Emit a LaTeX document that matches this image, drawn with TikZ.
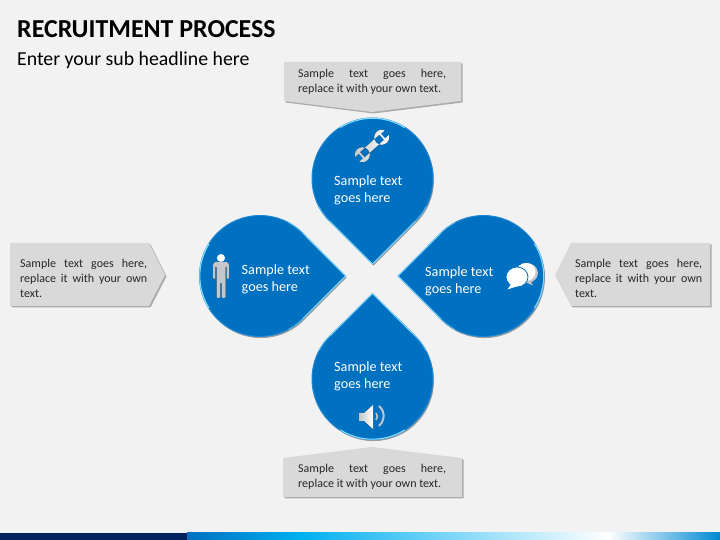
\documentclass[tikz,border=0pt]{standalone}
\usepackage{fontspec}
\setmainfont{Carlito}
\definecolor{pagebg}{HTML}{F2F2F2}
\definecolor{dropblue}{HTML}{0070C0}
\definecolor{rimblue}{HTML}{1F88D4}
\definecolor{glow}{HTML}{7FDBFF}
\definecolor{calloutgray}{HTML}{D9D9D9}
\definecolor{navybar}{HTML}{002060}
\definecolor{skybar}{HTML}{00B0F0}
\definecolor{icongray}{HTML}{C4C8CC}
\tikzset{
  calloutbox/.style={fill=calloutgray},
  calloutshade/.style={fill=black!60,opacity=.5},
  callouttext/.style={inner sep=0pt,anchor=north west,align=left,font=\fontsize{12}{14.6}\selectfont,text=black!85},
  droplabel/.style={inner sep=0pt,anchor=west,align=left,text=white,font=\fontsize{14.2}{17}\selectfont},
  iconfill/.style={left color=icongray,right color=white},
  iconmid/.style={left color=icongray,middle color=white,right color=icongray},
}
\newcommand\dropoutline{(0,-85.5) -- (-45:60.5) arc[start angle=-45,end angle=225,radius=60.5] -- cycle}
\newcommand\teardrop[3]{%
  \begin{scope}[shift={(#1+1,#2-1.6)},rotate=#3]
    \fill[black,opacity=.35] \dropoutline;
  \end{scope}
  \begin{scope}[shift={(#1,#2)},rotate=#3]
    \fill[dropblue] \dropoutline;
    \draw[rimblue,line width=1pt,line join=miter] \dropoutline;
    \draw[glow!55!rimblue,line width=.8pt] (-45:60.5) arc[start angle=-45,end angle=-28,radius=60.5];
    \draw[glow!55!rimblue,line width=.8pt] (225:60.5) arc[start angle=225,end angle=208,radius=60.5];
    \draw[glow,line width=.8pt,line join=miter] (225:60.5) -- (0,-85.5) -- (-45:60.5);
    \draw[glow,line width=1.1pt,line cap=round] (58:60.2) arc[start angle=58,end angle=122,radius=60.2];
  \end{scope}}
\begin{document}
\begin{tikzpicture}[x=1pt,y=1pt]
\useasboundingbox (0,0) rectangle (720,540);
\fill[pagebg] (0,0) rectangle (720,540);
% bottom bar
\fill[navybar] (0,0) rectangle (187,7);
\shade[left color=dropblue,right color=skybar] (187,0) rectangle (300,7);
\shade[left color=skybar,right color=white] (300,0) rectangle (608,7);
\shade[left color=white,right color=dropblue!60!skybar] (608,0) rectangle (720,7);
% titles
\node[inner sep=0pt,anchor=west,font=\fontsize{25.9}{30}\selectfont\bfseries] (title) at (17,511) {RECRUITMENT PROCESS};
\node[inner sep=0pt,anchor=west,font=\fontsize{19.8}{24}\selectfont] (subtitle) at (17,480) {Enter your sub headline here};
% callout shadows
\fill[calloutshade] (285.5,476.5) -- (462.5,476.5) -- (462.5,437.5) -- (373.5,426.5) -- (285.5,437.5) -- cycle;
\fill[calloutshade] (284.5,80.5) -- (373.5,91.5) -- (463.5,80.5) -- (463.5,41.5) -- (284.5,41.5) -- cycle;
\fill[calloutshade] (11.5,295.5) -- (150.5,295.5) -- (166.5,263.5) -- (150.5,232.5) -- (11.5,232.5) -- cycle;
\fill[calloutshade] (572.5,295.5) -- (711.5,295.5) -- (711.5,232.5) -- (572.5,232.5) -- (556.5,263.5) -- cycle;
% callouts
\fill[calloutbox] (284,478) -- (461,478) -- (461,439) -- (372,428) -- (284,439) -- cycle;
\fill[calloutbox] (283,82) -- (372,93) -- (462,82) -- (462,43) -- (283,43) -- cycle;
\fill[calloutbox] (10,297) -- (149,297) -- (165,265) -- (149,234) -- (10,234) -- cycle;
\fill[calloutbox] (571,297) -- (710,297) -- (710,234) -- (571,234) -- (555,265) -- cycle;
\node[callouttext] (ctop) at (298,470.7) {\makebox[148pt][s]{Sample text goes here,}\\replace it with your own text.};
\node[callouttext] (cbottom) at (298,75.7) {\makebox[148pt][s]{Sample text goes here,}\\replace it with your own text.};
\node[callouttext] (cleft) at (20,280.7) {\makebox[127pt][s]{Sample text goes here,}\\\makebox[127pt][s]{replace it with your own}\\text.};
\node[callouttext] (cright) at (575,280.7) {\makebox[127pt][s]{Sample text goes here,}\\\makebox[127pt][s]{replace it with your own}\\text.};
% drops
\teardrop{372.5}{361.5}{0}
\teardrop{260}{264}{90}
\teardrop{483.5}{264}{-90}
\teardrop{372.5}{161}{180}
% labels
\node[droplabel] (ltop) at (334,349.3) {Sample text\\goes here};
\node[droplabel] (lleft) at (241.5,261) {Sample text\\goes here};
\node[droplabel] (lright) at (425,259) {Sample text\\goes here};
\node[droplabel] (lbottom) at (334,163.5) {Sample text\\goes here};
% wrench
\begin{scope}[shift={(372,394)},rotate=42]
  \fill[iconfill] (-13,0) circle[radius=7.5] (13,0) circle[radius=7.5] (-13,-3.5) rectangle (13,3.5);
  \fill[dropblue] (-21,-3) rectangle (-15,3) (15,-3) rectangle (21,3);
\end{scope}
% person
\fill[white] (221,282) circle[radius=4];
\fill[iconmid,rounded corners=1.2pt] (214.5,278) -- (227.5,278) -- (229,276) -- (229,261) -- (226.7,261) -- (226.7,274) -- (225.5,274) -- (225.5,242) -- (221.6,242) -- (221.6,258) -- (220.4,258) -- (220.4,242) -- (216.5,242) -- (216.5,274) -- (215.3,274) -- (215.3,261) -- (213,261) -- (213,276) -- cycle;
% speech bubbles
\fill[icongray] (527,267) ellipse[x radius=11,y radius=10];
\fill[icongray] (530,260) -- (533,254.5) -- (525,258) -- cycle;
\fill[white] (526,268) ellipse[x radius=9.5,y radius=9];
\draw[dropblue,line width=.8pt,fill=white] (517,263) ellipse[x radius=11,y radius=10];
\fill[white] (511,256) -- (507.5,250.5) -- (518,254) -- cycle;
% speaker
\fill[iconfill] (359,127) -- (364,127) -- (373,135) -- (373,111) -- (364,119) -- (359,119) -- cycle;
\draw[icongray,line width=1.6pt] (376,127) arc[start angle=40,end angle=-40,radius=5.5];
\draw[icongray,line width=2pt] (379,134) arc[start angle=50,end angle=-50,radius=13];
\end{tikzpicture}
\end{document}
